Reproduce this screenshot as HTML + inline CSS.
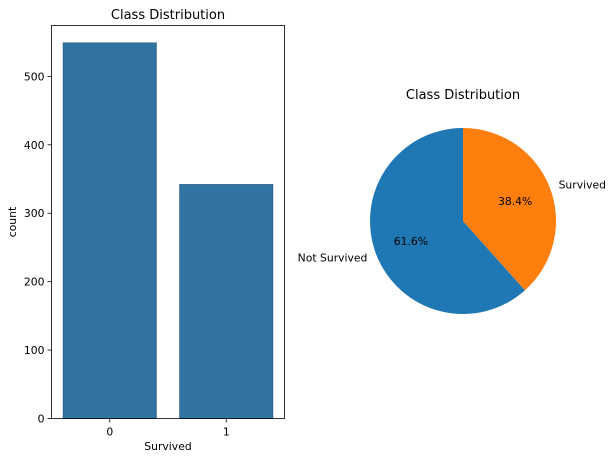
<!DOCTYPE html>
<html><head><meta charset="utf-8"><style>
body{margin:0;background:#fff;}
svg text{font-family:"DejaVu Sans","Liberation Sans",sans-serif;fill:#000;}
</style></head><body>
<svg id="c" width="614" height="460" viewBox="0 0 614 460" xmlns="http://www.w3.org/2000/svg"></svg>
<script>
const categories = ["0", "1"];
const counts = [549, 342];
const yTicks = [0, 100, 200, 300, 400, 500];
const pieLabels = ["Not Survived", "Survived"];
const pieValues = [549, 342];
const pieColors = ["#1f77b4", "#ff7f0e"];

const NS = "http://www.w3.org/2000/svg";
const svg = document.getElementById("c");
function mk(tag, attrs, text){const e=document.createElementNS(NS,tag);for(const k in attrs)e.setAttribute(k,attrs[k]);if(text!==undefined)e.textContent=text;svg.appendChild(e);return e;}

const FS=10.8;
const L=51.5,R=284.5,T=25.5,B=418.5;
const yMax=574.4;
function y(v){return B-(v/yMax)*(B-T);}
const band=(R-L)/categories.length;
function xc(i){return L+band*(i+0.5);}
categories.forEach((c,i)=>{
  const w=band*0.8;
  const r=mk("rect",{x:xc(i)-w/2,y:y(counts[i]),width:w,height:B-y(counts[i]),fill:"#3274a1",stroke:"#2a5f86","stroke-width":0.8});
  
  
  const t=mk("line",{x1:xc(i),x2:xc(i),y1:B,y2:B+4,stroke:"#000","stroke-width":0.8});
  
  
  const l=mk("text",{x:xc(i),y:B+17,"font-size":FS,"text-anchor":"middle"},c);
  
  
});
yTicks.forEach(v=>{
  const t=mk("line",{x1:L-4,x2:L,y1:y(v),y2:y(v),stroke:"#000","stroke-width":0.8});
  
  
  const l=mk("text",{x:L-7,y:y(v)+4,"font-size":FS,"text-anchor":"end"},String(v));
  
  
});
const frame=mk("rect",{x:L,y:T,width:R-L,height:B-T,fill:"none",stroke:"#000","stroke-width":0.8});


const t1=mk("text",{x:(L+R)/2,y:19,"font-size":13,"text-anchor":"middle"},"Class Distribution");


const xt=mk("text",{x:(L+R)/2,y:450,"font-size":FS,"text-anchor":"middle"},"Survived");


const yt=mk("text",{x:0,y:0,"font-size":FS,"text-anchor":"middle",transform:"translate(16,222) rotate(-90)"},"count");



const cx=463,cy=221,rad=93;
const total=pieValues.reduce((a,b)=>a+b,0);
let ang=90;
pieValues.forEach((v,i)=>{
  const sweep=v/total*360;
  const a0=ang*Math.PI/180,a1=(ang+sweep)*Math.PI/180;
  const x0=cx+rad*Math.cos(a0),y0=cy-rad*Math.sin(a0),x1=cx+rad*Math.cos(a1),y1=cy-rad*Math.sin(a1);
  const large=sweep>180?1:0;
  const p=mk("path",{d:`M${cx},${cy} L${x0},${y0} A${rad},${rad} 0 ${large} 0 ${x1},${y1} Z`,fill:pieColors[i]});
  
  
  const mid=(ang+sweep/2)*Math.PI/180;
  const pt=mk("text",{x:cx+rad*0.6*Math.cos(mid),y:cy-rad*0.6*Math.sin(mid)+4,"font-size":FS,"text-anchor":"middle"},(v/total*100).toFixed(1)+"%");
  
  
  const lx=cx+rad*1.1*Math.cos(mid),ly=cy-rad*1.1*Math.sin(mid);
  const lt=mk("text",{x:lx,y:ly+4,"font-size":FS,"text-anchor":Math.cos(mid)<0?"end":"start"},pieLabels[i]);
  
  
  ang+=sweep;
});
const t2=mk("text",{x:cx,y:99,"font-size":13,"text-anchor":"middle"},"Class Distribution");


</script>
</body></html>
